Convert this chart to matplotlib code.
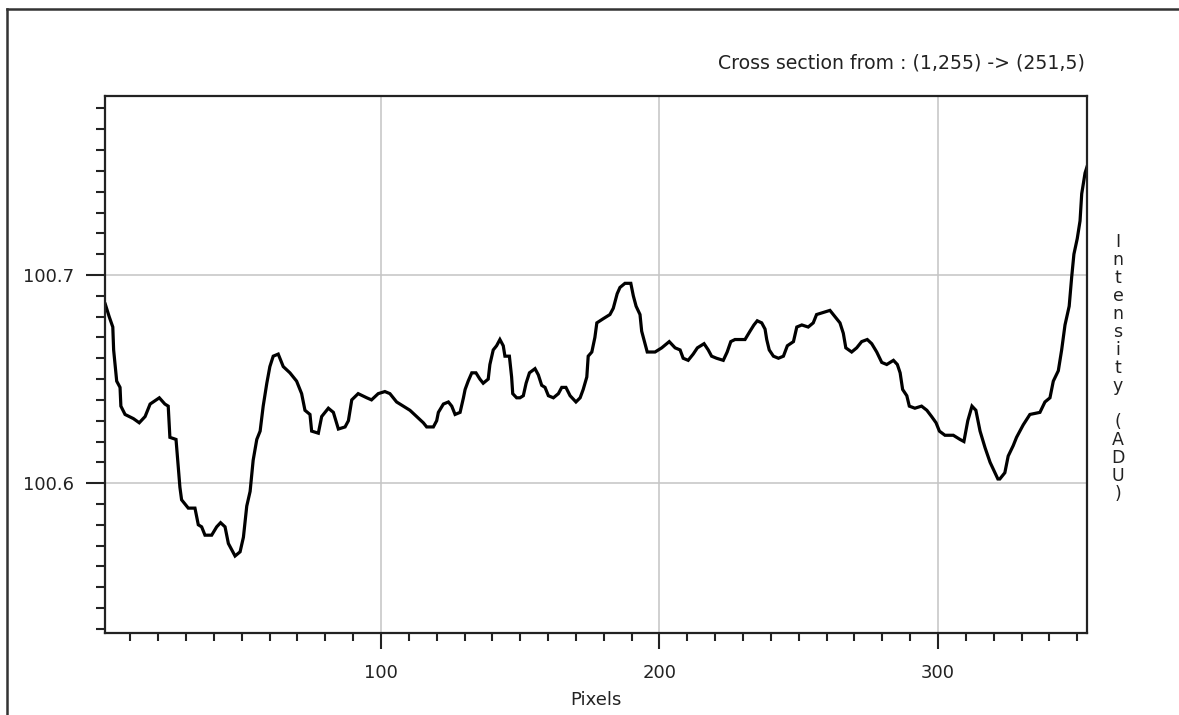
import matplotlib
matplotlib.use("Agg")
import matplotlib.pyplot as plt
from matplotlib.lines import Line2D
from matplotlib.ticker import MultipleLocator, FixedLocator

plt.rcParams["font.family"] = ["DejaVu Sans"]

# Intensity profile along the cross section (pixel index -> ADU)
pixels = [
    1.0, 2.4, 3.7, 4.0, 5.1, 6.3, 6.6, 8.1, 11.1, 13.2, 15.3, 17.1, 20.4, 22.4,
    23.6, 24.2, 26.4, 27.2, 27.8, 28.4, 30.8, 33.2, 34.4, 35.6, 36.8, 39.2,
    41.0, 42.4, 44.0, 45.2, 46.4, 47.6, 49.4, 50.6, 51.8, 53.0, 54.1, 55.4,
    56.6, 57.7, 59.0, 60.1, 61.3, 63.1, 64.9, 67.3, 69.7, 71.5, 72.7, 74.5,
    75.1, 77.5, 78.7, 81.1, 82.9, 84.7, 87.1, 88.3, 89.5, 91.8, 94.9, 96.6,
    99.0, 101.4, 103.2, 105.6, 108.0, 110.4, 112.8, 115.2, 116.4, 118.8,
    120.0, 120.6, 122.4, 124.2, 125.4, 126.6, 128.4, 129.6, 130.2, 131.3,
    132.6, 134.1, 135.5, 136.7, 138.5, 139.1, 140.3, 141.5, 142.7, 143.9,
    144.5, 146.1, 146.9, 147.3, 148.7, 149.9, 151.1, 152.1, 153.3, 155.3,
    156.5, 157.7, 158.9, 160.1, 161.9, 163.7, 164.9, 166.4, 167.9, 170.0,
    171.5, 172.6, 173.9, 174.4, 175.7, 176.8, 177.5, 179.8, 182.2, 183.4,
    184.8, 185.8, 187.6, 189.7, 190.6, 191.6, 193.0, 193.6, 194.8, 195.6,
    198.4, 200.8, 203.5, 205.6, 207.4, 208.5, 210.3, 212.1, 213.6, 216.0,
    217.5, 218.7, 220.5, 222.9, 224.3, 225.6, 227.1, 230.7, 232.5, 233.9,
    235.1, 236.7, 237.9, 238.5, 239.4, 240.9, 242.7, 244.5, 245.9, 248.1,
    249.3, 251.1, 253.4, 255.2, 256.4, 258.8, 261.2, 263.0, 264.8, 266.0,
    266.9, 269.0, 270.8, 272.6, 274.6, 276.2, 278.0, 279.8, 281.6, 284.0,
    285.4, 286.4, 287.3, 288.8, 289.7, 291.7, 294.1, 296.0, 297.7, 299.3,
    300.5, 302.5, 305.5, 307.9, 309.3, 310.7, 312.2, 313.6, 315.1, 316.9,
    318.7, 320.1, 321.5, 322.2, 324.0, 325.2, 327.0, 328.2, 330.6, 333.0,
    336.6, 338.4, 340.2, 341.4, 343.2, 344.4, 345.6, 347.1, 348.0, 348.8,
    350.0, 351.0, 351.6, 352.8, 353.5,
]
intensity = [
    100.686, 100.680, 100.675, 100.664, 100.649, 100.646, 100.637, 100.633,
    100.631, 100.629, 100.632, 100.638, 100.641, 100.638, 100.637, 100.622,
    100.621, 100.608, 100.598, 100.592, 100.588, 100.588, 100.580, 100.579,
    100.575, 100.575, 100.579, 100.581, 100.579, 100.571, 100.568, 100.565,
    100.567, 100.574, 100.589, 100.596, 100.611, 100.621, 100.625, 100.637,
    100.648, 100.656, 100.661, 100.662, 100.656, 100.653, 100.649, 100.643,
    100.635, 100.633, 100.625, 100.624, 100.632, 100.636, 100.634, 100.626,
    100.627, 100.630, 100.640, 100.643, 100.641, 100.640, 100.643, 100.644,
    100.643, 100.639, 100.637, 100.635, 100.632, 100.629, 100.627, 100.627,
    100.630, 100.634, 100.638, 100.639, 100.637, 100.633, 100.634, 100.641,
    100.645, 100.649, 100.653, 100.653, 100.650, 100.648, 100.650, 100.657,
    100.664, 100.666, 100.669, 100.666, 100.661, 100.661, 100.651, 100.643,
    100.641, 100.641, 100.642, 100.648, 100.653, 100.655, 100.652, 100.647,
    100.646, 100.642, 100.641, 100.643, 100.646, 100.646, 100.642, 100.639,
    100.641, 100.645, 100.651, 100.661, 100.663, 100.670, 100.677, 100.679,
    100.681, 100.684, 100.691, 100.694, 100.696, 100.696, 100.690, 100.685,
    100.681, 100.673, 100.667, 100.663, 100.663, 100.665, 100.668, 100.665,
    100.664, 100.660, 100.659, 100.662, 100.665, 100.667, 100.664, 100.661,
    100.660, 100.659, 100.663, 100.668, 100.669, 100.669, 100.673, 100.676,
    100.678, 100.677, 100.674, 100.669, 100.664, 100.661, 100.660, 100.661,
    100.666, 100.668, 100.675, 100.676, 100.675, 100.677, 100.681, 100.682,
    100.683, 100.680, 100.677, 100.672, 100.665, 100.663, 100.665, 100.668,
    100.669, 100.667, 100.663, 100.658, 100.657, 100.659, 100.657, 100.653,
    100.645, 100.642, 100.637, 100.636, 100.637, 100.635, 100.632, 100.629,
    100.625, 100.623, 100.623, 100.621, 100.620, 100.630, 100.637, 100.635,
    100.625, 100.617, 100.610, 100.606, 100.602, 100.602, 100.605, 100.613,
    100.618, 100.622, 100.628, 100.633, 100.634, 100.639, 100.641, 100.649,
    100.654, 100.664, 100.676, 100.685, 100.699, 100.710, 100.7175, 100.726,
    100.739, 100.749, 100.752,
]

x_major = [100, 200, 300]
y_major = [100.6, 100.7]
y_major_labels = ["100.6", "100.7"]
title_text = "Cross section from : (1,255) -> (251,5)"
x_label = "Pixels"
y_label = "Intensity (ADU)"

W, H = 1179, 715
fig = plt.figure(figsize=(W / 100, H / 100), dpi=100)
fig.patch.set_facecolor("white")

ax = fig.add_axes([105 / W, 1 - 633 / H, (1087 - 105) / W, (633 - 96) / H])
ax.plot(pixels, intensity, color="black", lw=2.3, solid_joinstyle="miter")

ax.set_xlim(0.9, 353.5)
ax.set_ylim(100.528, 100.786)

ax.xaxis.set_major_locator(FixedLocator(x_major))
ax.xaxis.set_minor_locator(MultipleLocator(10))
ax.set_yticks(y_major)
ax.set_yticklabels(y_major_labels)
ax.yaxis.set_minor_locator(MultipleLocator(0.01))

ax.grid(True, which="major", color="#c4c4c4", lw=1.1)
ax.set_axisbelow(True)

for s in ax.spines.values():
    s.set_linewidth(1.6)
    s.set_color("#222222")

ax.tick_params(axis="both", which="both", direction="out", color="#222222",
               width=1.5, top=False, right=False, labelsize=13,
               labelcolor="#222222")
ax.tick_params(axis="y", which="major", length=13.5, pad=9)
ax.tick_params(axis="y", which="minor", length=6.5)
ax.tick_params(axis="x", which="major", length=11.5, pad=11)
ax.tick_params(axis="x", which="minor", length=6)

ax.set_xlabel(x_label, fontsize=13, color="#222222", labelpad=6)

fig.text(1085 / W, 1 - 63 / H, title_text, ha="right", va="center",
         fontsize=13.6, color="#222222")

# Vertical label drawn as a column of stacked characters
fig.text(1118 / W, 1 - 368 / H, "\n".join(y_label), ha="center", va="center",
         multialignment="center", fontsize=12.5, linespacing=1.0,
         color="#222222")

# Outer window frame
frame_col = "#333333"
fig.add_artist(Line2D([7 / W, 7 / W], [0, 1 - 9 / H], transform=fig.transFigure,
                      color=frame_col, lw=1.8))
fig.add_artist(Line2D([7 / W, 1], [1 - 9 / H, 1 - 9 / H],
                      transform=fig.transFigure, color=frame_col, lw=1.8))

fig.savefig("out.png", dpi=100, facecolor="white")
